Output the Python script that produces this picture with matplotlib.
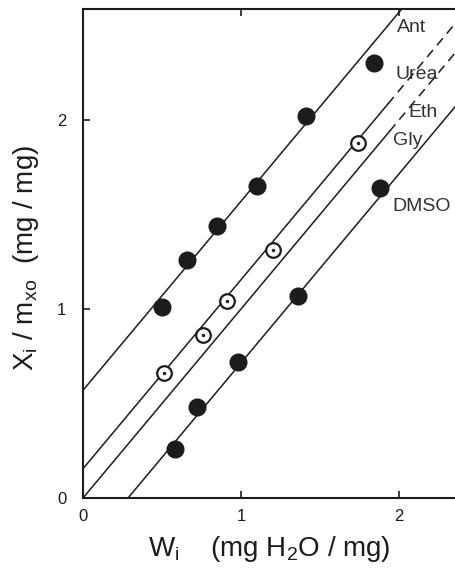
import numpy as np
import matplotlib
matplotlib.use('Agg')
import matplotlib.pyplot as plt

plt.rcParams['font.family'] = ['Liberation Sans', 'DejaVu Sans']
plt.rcParams['mathtext.fontset'] = 'custom'
plt.rcParams['mathtext.rm'] = 'Liberation Sans'
plt.rcParams['mathtext.it'] = 'Liberation Sans'

# points (W_i, X_i/m_xo)
ant_w = [0.50, 0.66, 0.85, 1.10, 1.41, 1.84]
ant_x = [1.01, 1.26, 1.44, 1.65, 2.02, 2.30]

gly_w = [0.51, 0.76, 0.91, 1.20, 1.74]
gly_x = [0.66, 0.86, 1.04, 1.31, 1.88]

dmso_w = [0.58, 0.72, 0.98, 1.36, 1.88]
dmso_x = [0.26, 0.48, 0.72, 1.07, 1.64]

# fitted lines: slope, intercept, where the dashed part starts
line_slopes = [1.0, 1.0, 1.0, 1.0]
line_intercepts = [0.57, 0.155, 0.0, -0.285]
line_dash_from = [None, 1.93, 1.94, None]

label_names = ['Ant', 'Urea', 'Eth', 'Gly', 'DMSO']
label_w = [1.99, 1.98, 2.06, 1.96, 1.96]
label_x = [2.49, 2.24, 2.04, 1.89, 1.54]

x_ticks = [0, 1, 2]
y_ticks = [0, 1, 2]

ink = '#1c1c1c'

fig = plt.figure(figsize=(4.56, 5.76), dpi=100)
ax = fig.add_axes([83 / 456, 78 / 576, 373 / 456, 489 / 576])

for slope, b, dash_w in zip(line_slopes, line_intercepts, line_dash_from):
    w_end = 2.5
    if dash_w is None:
        w = np.array([0.0, w_end])
        ax.plot(w, slope * w + b, color=ink, lw=1.1)
    else:
        w = np.array([0.0, dash_w])
        ax.plot(w, slope * w + b, color=ink, lw=1.1)
        w = np.array([dash_w, w_end])
        ax.plot(
            w,
            slope * w + b,
            color=ink,
            lw=1.1,
            linestyle=(0, (6, 4))
        )

ax.plot(
    ant_w, ant_x,
    'o',
    color=ink,
    markersize=12,
    zorder=3
)
ax.plot(
    dmso_w, dmso_x,
    'o',
    color=ink,
    markersize=12,
    zorder=3
)
ax.plot(
    gly_w, gly_x,
    'o',
    markerfacecolor='white',
    markeredgecolor=ink,
    markeredgewidth=1.6,
    markersize=10.5,
    zorder=3
)
ax.plot(
    gly_w, gly_x,
    '.',
    color=ink,
    markersize=3,
    zorder=4
)

for name, w, x in zip(label_names, label_w, label_x):
    ax.text(
        w, x, name,
        fontsize=14,
        color='#333333',
        ha='left',
        va='center'
    )

ax.set_xlim(0, 373 / 158)
ax.set_ylim(0, 489 / 189)

ax.spines['right'].set_visible(False)
for side in ['left', 'bottom', 'top']:
    ax.spines[side].set_linewidth(1.5)
    ax.spines[side].set_color(ink)

ax.set_xticks(x_ticks)
ax.set_yticks(y_ticks)
ax.tick_params(
    direction='in',
    length=5,
    width=1.2,
    labelsize=12,
    colors=ink,
    top=True,
    labeltop=False
)
ax.tick_params(axis='y', pad=12)
ax.tick_params(axis='x', pad=8)

ax.set_xlabel(
    r'W$_\mathrm{i}$    (mg H$_2$O / mg)',
    fontsize=20,
    color=ink,
    labelpad=7
)
ax.set_ylabel(
    r'X$_\mathrm{i}$ / m$_\mathrm{xo}$  (mg / mg)',
    fontsize=20,
    color=ink
)
ax.yaxis.set_label_coords(-0.113, 0.49)

fig.savefig('out.png', dpi=100)
